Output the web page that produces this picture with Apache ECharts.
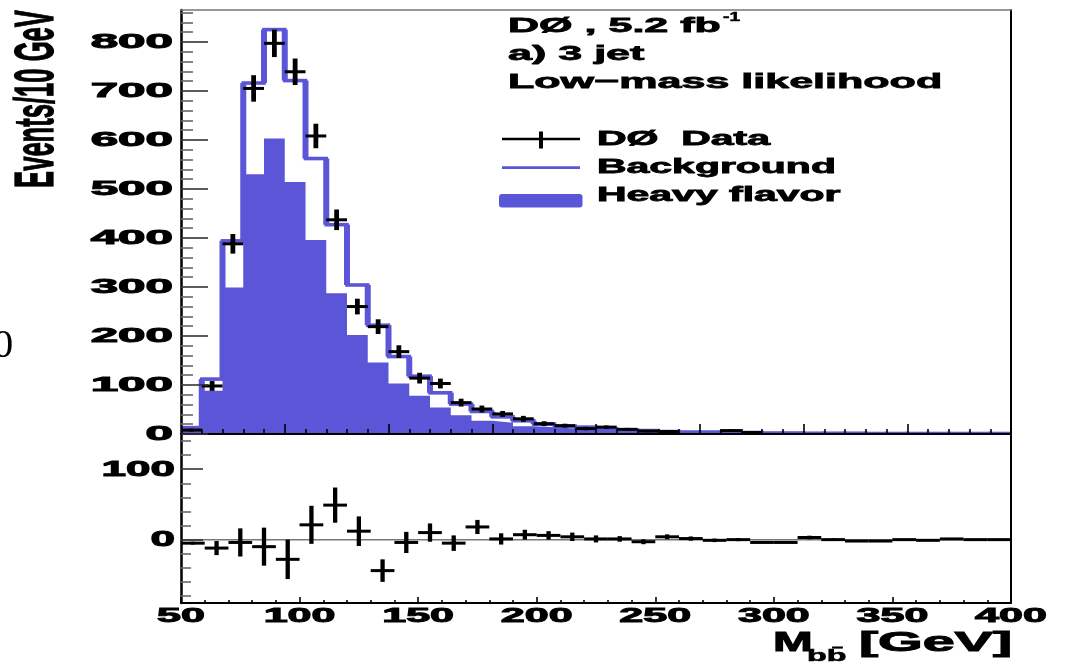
<!DOCTYPE html>
<html><head><meta charset="utf-8">
<script src="https://cdn.jsdelivr.net/npm/echarts@6/dist/echarts.min.js"></script>
<style>html,body{margin:0;padding:0;background:#fff}#c{width:1065px;height:664px}</style>
</head><body><div id="c"></div>
<script>
// ---------- data ----------
const binWidth = 10;
// top panel: histogram bins (low edges, GeV)
const binLow = [50,60,70,80,90,100,110,120,130,140,150,160,170,180,190,200,210,220,230,240,
                250,260,270,280,290,300,310,320,330,340,350,360,370,380,390,400,410,420,430,440];
const background = [13,112,394,716,825,721,562,427,304,222,158,118,84,61,46,35,27,20,16,14,
                    10,8,7,5,4,4,4,3,2,2,1.5,1.5,1.5,1,1,1,1,1,1,1];
const heavyFlavor = [11,88,299,530,603,514,396,287,202,146,103,78,54,38,27,23,16,14,11,9,
                     7,6,5,4,3,3,3,2,1.5,1.5,1,1,1,0.8,0.8,0.7,0.6,0.6,0.5,0.5];
// top panel: data points
const dataCenters = [55,65,75,85,95,105,115,125,135,145,155,165,175,185,195,205,215,225,235,245,255,265,275,285,315,325];
const dataValues  = [8,98,388,705,797,739,608,437,260,219,168,114,103,64,51,41,31,21,17,11,14,9.5,6,5,7,3];
const dataErrors  = [3,10,20,27,28,27,25,21,16,15,13,11,10,8,7,6,6,5,4,3.5,3.5,3,2.5,2.2,2.6,1.7];
// bottom panel: data - background
const residCenters = [55,65,75,85,95,105,115,125,135,145,155,165,175,185,195,205,215,225,235,245,
                      255,265,275,285,295,305,315,325,335,345,355,365,375,385,395];
const residValues  = [-5,-12,-4,-10,-28,21,49,12,-44,-4,10,-5,18,1,7,6,4,1,1,-3,
                      4,1.5,-1,0,-4,-4,3,0,-2,-2,0,-1,1,0,0];
const residErrors  = [2,10,20,27,28,27,25,21,16,15,13,11,10,8,7,6,6,5,4,3.5,
                      3.5,3,2.5,2.2,0,0,2.6,1.7,0,0,1.2,1,1,1,1];
// tick labels
const topYTicks = [0,100,200,300,400,500,600,700,800];
const bottomYTicks = [0,100];
const xTicks = [50,100,150,200,250,300,350,400];
const topXRange = [50,450];
const bottomXRange = [50,400];
const topYRange = [0,865];
const bottomYRange = [-90,150];

// ---------- style ----------
const BLUE = '#5b56d8';
const FONT = '"Liberation Sans", Arial, Helvetica, sans-serif';

function range(a, b, step, skip) {
  const r = [];
  for (let v = a; v <= b + 1e-9; v += step) { if (!skip || Math.abs(v % skip) > 1e-9) r.push(v); }
  return r;
}
const topXMajor = range(100, 400, 50);
const topXMinor = range(60, 440, 10, 50);
const botXMinor = range(60, 390, 10, 50);
const topYMinor = range(20, 860, 20, 100);
const botYMinor = range(-80, 140, 20, 100);

function crossRender(lwH, lwV) {
  return function (params, api) {
    const x = api.value(0), y = api.value(1), e = api.value(2);
    const l = api.coord([x - binWidth / 2, y]);
    const r = api.coord([x + binWidth / 2, y]);
    const t = api.coord([x, y + e]);
    const b = api.coord([x, y - e]);
    const children = [{ type: 'line', shape: { x1: l[0], y1: l[1], x2: r[0], y2: r[1] },
                        style: { stroke: '#000', lineWidth: lwH } }];
    if (e > 0) children.push({ type: 'line', shape: { x1: t[0], y1: t[1], x2: b[0], y2: b[1] },
                               style: { stroke: '#000', lineWidth: lwV } });
    return { type: 'group', children: children };
  };
}

function noAxis(extra) {
  return Object.assign({
    type: 'value', axisLabel: { show: false }, splitLine: { show: false },
    axisLine: { show: false, onZero: false }, axisTick: { show: false }, z: 5
  }, extra);
}

const chart = echarts.init(document.getElementById('c'), null, { renderer: 'canvas' });
const option = {
  animation: false,
  backgroundColor: '#fff',
  grid: [
    { left: 181, top: 10, width: 830, height: 424 },
    { left: 181, top: 434, width: 830, height: 169 }
  ],
  xAxis: [
    noAxis({ gridIndex: 0, position: 'bottom', min: topXRange[0], max: topXRange[1],
      axisLine: { show: true, onZero: false, lineStyle: { color: '#000', width: 2 } },
      axisTick: { show: true, inside: true, length: 10, customValues: topXMajor, lineStyle: { color: '#000', width: 1.6 } } }),
    noAxis({ gridIndex: 0, position: 'bottom', min: topXRange[0], max: topXRange[1],
      axisTick: { show: true, inside: true, length: 5, customValues: topXMinor, lineStyle: { color: '#000', width: 1.6 } } }),
    noAxis({ gridIndex: 1, position: 'bottom', min: bottomXRange[0], max: bottomXRange[1],
      axisLine: { show: true, onZero: false, lineStyle: { color: '#000', width: 2 } },
      axisTick: { show: true, inside: true, length: 6, customValues: xTicks, lineStyle: { color: '#000', width: 1.6 } } }),
    noAxis({ gridIndex: 1, position: 'bottom', min: bottomXRange[0], max: bottomXRange[1],
      axisTick: { show: true, inside: true, length: 3, customValues: botXMinor, lineStyle: { color: '#000', width: 1.6 } } }),
    noAxis({ gridIndex: 0, position: 'top', min: topXRange[0], max: topXRange[1],
      axisLine: { show: true, onZero: false, lineStyle: { color: '#777', width: 1.5 } } })
  ],
  yAxis: [
    noAxis({ gridIndex: 0, position: 'left', min: topYRange[0], max: topYRange[1],
      axisLine: { show: true, onZero: false, lineStyle: { color: '#000', width: 2.5 } },
      axisTick: { show: true, inside: true, length: 27, customValues: topYTicks, lineStyle: { color: '#333', width: 1.6 } } }),
    noAxis({ gridIndex: 0, position: 'left', min: topYRange[0], max: topYRange[1],
      axisTick: { show: true, inside: true, length: 12, customValues: topYMinor, lineStyle: { color: '#666', width: 1.6 } } }),
    noAxis({ gridIndex: 1, position: 'left', min: bottomYRange[0], max: bottomYRange[1],
      axisLine: { show: true, onZero: false, lineStyle: { color: '#000', width: 2.5 } },
      axisTick: { show: true, inside: true, length: 22, customValues: bottomYTicks, lineStyle: { color: '#333', width: 1.6 } } }),
    noAxis({ gridIndex: 1, position: 'left', min: bottomYRange[0], max: bottomYRange[1],
      axisTick: { show: true, inside: true, length: 10, customValues: botYMinor, lineStyle: { color: '#666', width: 1.6 } } }),
    noAxis({ gridIndex: 0, position: 'right', min: topYRange[0], max: topYRange[1],
      axisLine: { show: true, onZero: false, lineStyle: { color: '#000', width: 2 } } }),
    noAxis({ gridIndex: 1, position: 'right', min: bottomYRange[0], max: bottomYRange[1],
      axisLine: { show: true, onZero: false, lineStyle: { color: '#000', width: 2 } } })
  ],
  series: [
    { // heavy flavor filled histogram
      name: 'Heavy flavor', type: 'line', xAxisIndex: 0, yAxisIndex: 0, step: 'end',
      symbol: 'none', silent: true, z: 2,
      data: binLow.map((x, i) => [x, heavyFlavor[i]])
              .concat([[binLow[binLow.length - 1] + binWidth, heavyFlavor[heavyFlavor.length - 1]]]),
      lineStyle: { width: 0, opacity: 0 },
      areaStyle: { color: BLUE, opacity: 1 }
    },
    { // background outline histogram
      name: 'Background', type: 'custom', xAxisIndex: 0, yAxisIndex: 0, z: 3, silent: true, clip: true,
      data: binLow.map((x, i) => [x, background[i], i > 0 ? background[i - 1] : background[i]]),
      encode: { x: 0, y: 1 },
      renderItem: function (params, api) {
        const lo = api.value(0), v = api.value(1), prev = api.value(2);
        const a = api.coord([lo, v]), b = api.coord([lo + binWidth, v]), c = api.coord([lo, prev]);
        return { type: 'group', children: [
          { type: 'line', shape: { x1: a[0], y1: a[1], x2: b[0], y2: b[1] },
            style: { stroke: BLUE, lineWidth: 3.6, lineCap: 'square' } },
          { type: 'line', shape: { x1: c[0], y1: c[1], x2: a[0], y2: a[1] },
            style: { stroke: BLUE, lineWidth: 6 } }
        ] };
      }
    },
    { // data points
      name: 'DØ Data', type: 'custom', xAxisIndex: 0, yAxisIndex: 0, z: 4, silent: true, clip: true,
      data: dataCenters.map((x, i) => [x, dataValues[i], dataErrors[i]]),
      encode: { x: 0, y: 1 },
      renderItem: crossRender(3, 4.8)
    },
    { // zero line of the difference panel
      name: 'zero', type: 'line', xAxisIndex: 2, yAxisIndex: 2, symbol: 'none', silent: true, z: 2,
      data: bottomXRange.map(x => [x, 0]),
      lineStyle: { color: '#777', width: 1.5 }
    },
    { // data - background
      name: 'Data - Background', type: 'custom', xAxisIndex: 2, yAxisIndex: 2, z: 4, silent: true, clip: true,
      data: residCenters.map((x, i) => [x, residValues[i], residErrors[i]]),
      encode: { x: 0, y: 1 },
      renderItem: crossRender(3, 4.3)
    }
  ]
};
chart.setOption(option);

// ---------- texts (horizontally stretched like the reference) ----------
function txt(text, x, y, size, sx, align, sw) {
  return {
    type: 'text', x: x, y: y, scaleX: sx, z: 100, silent: true,
    style: { text: text, fill: '#000', stroke: '#000', lineWidth: sw === undefined ? 0.8 : sw,
             font: 'bold ' + size + 'px ' + FONT, align: align, verticalAlign: 'middle' }
  };
}
const g = [];
topYTicks.forEach(v => {
  const p = chart.convertToPixel({ gridIndex: 0 }, [topXRange[0], v]);
  g.push(txt(String(v), p[0] - 8, p[1] + 0.5, 21, 2.35, 'right', 1));
});
bottomYTicks.forEach(v => {
  const p = chart.convertToPixel({ gridIndex: 1 }, [bottomXRange[0], v]);
  g.push(txt(String(v), p[0] - 6, p[1] + 0.5, 22, 2.0, 'right', 1));
});
xTicks.forEach(v => {
  const p = chart.convertToPixel({ gridIndex: 1 }, [v, bottomYRange[0]]);
  g.push(txt(String(v), p[0], p[1] + 13, 21, 2.05, 'center', 1));
});
// axis titles
g.push({ type: 'text', x: 38, y: 99, rotation: Math.PI / 2, scaleY: 2.15, z: 100, silent: true,
  style: { text: 'Events/10 GeV', fill: '#000', stroke: '#000', lineWidth: 0.6,
           font: 'bold 25.6px ' + FONT, align: 'center', verticalAlign: 'middle' } });
g.push(txt('M', 773, 643.5, 28, 1.7, 'left', 1));
g.push(txt('bb\u0304', 807, 656, 17, 1.9, 'left', 0.6));
g.push(txt('[GeV]', 1012, 643.5, 28, 2.05, 'right', 1));
// annotations
g.push(txt('DØ , 5.2 fb', 508, 26, 21, 2.05, 'left'));
g.push(txt('-1', 723, 18, 12, 1.6, 'left', 0.5));
g.push(txt('a) 3 jet', 508, 54, 21, 2.05, 'left'));
g.push(txt('Low\u2212mass likelihood', 508, 82, 21, 2.05, 'left'));
// legend
g.push({ type: 'line', z: 100, silent: true, shape: { x1: 502, y1: 139, x2: 580, y2: 139 }, style: { stroke: '#000', lineWidth: 2.5 } });
g.push({ type: 'line', z: 100, silent: true, shape: { x1: 541, y1: 131.5, x2: 541, y2: 148.5 }, style: { stroke: '#000', lineWidth: 4 } });
g.push({ type: 'line', z: 100, silent: true, shape: { x1: 502, y1: 167.7, x2: 580, y2: 167.7 }, style: { stroke: BLUE, lineWidth: 2.7 } });
g.push({ type: 'rect', z: 100, silent: true, shape: { x: 499, y: 194, width: 83.5, height: 13.5, r: 3 }, style: { fill: BLUE } });
g.push(txt('DØ  Data', 597, 139.5, 19.5, 2.1, 'left'));
g.push(txt('Background', 597, 167.5, 19.5, 2.1, 'left'));
g.push(txt('Heavy flavor', 597, 195.5, 19.5, 2.1, 'left'));
// clipped glyph at the left border of the reference image
g.push({ type: 'text', x: 3, y: 346, z: 100, silent: true,
  style: { text: '0', fill: '#000', font: '41px "Liberation Serif", serif', align: 'center', verticalAlign: 'middle' } });
chart.setOption({ graphic: g });
</script>
</body></html>
